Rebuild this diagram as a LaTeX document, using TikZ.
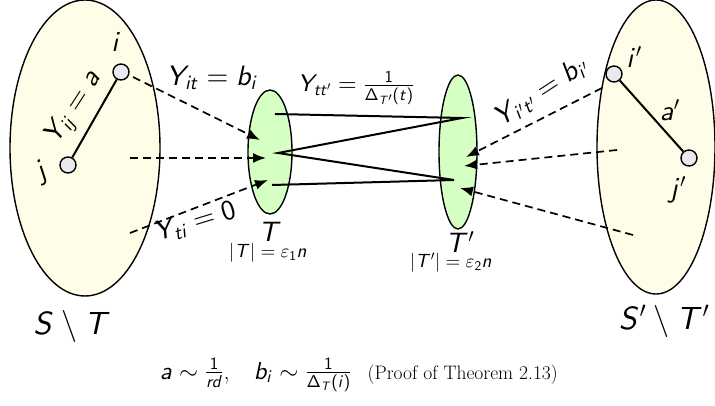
\RequirePackage{fix-cm}
\documentclass[tikz,border=0pt]{standalone}
\usepackage{amsmath}
\DeclareFontFamily{OT1}{mysf}{}
\DeclareFontShape{OT1}{mysf}{m}{n}{<->cmss10}{}
\DeclareFontShape{OT1}{mysf}{m}{sl}{<->cmssi10}{}
\DeclareFontFamily{OML}{mymm}{\skewchar\font'177}
\DeclareFontShape{OML}{mymm}{m}{it}{<->cmmi10}{}
\DeclareSymbolFont{oldletters}{OML}{mymm}{m}{it}
\DeclareMathSymbol{\veps}{\mathord}{oldletters}{"22}
\SetSymbolFont{letters}{normal}{OT1}{mysf}{m}{sl}
\SetSymbolFont{operators}{normal}{OT1}{mysf}{m}{n}
\usetikzlibrary{shapes.geometric,arrows.meta}
\definecolor{paleyellow}{RGB}{255,253,232}
\definecolor{palegreen}{RGB}{214,255,196}
\definecolor{vertexgray}{RGB}{232,234,238}
\tikzset{
  bigset/.style={ellipse, draw=black, line width=1.4pt, fill=paleyellow, inner sep=0pt},
  smallset/.style={ellipse, draw=black, line width=1.4pt, fill=palegreen, inner sep=0pt},
  vertex/.style={circle, draw=black, line width=1.4pt, fill=vertexgray, minimum size=16pt, inner sep=0pt},
  dasharrow/.style={dashed, dash pattern=on 8pt off 5pt, line width=1.7pt, -{Latex[length=13pt,width=10pt]}},
  solidedge/.style={line width=2pt},
  lbl/.style={font=\fontsize{28}{32}\selectfont, inner sep=0pt},
  midlbl/.style={font=\fontsize{24}{28}\selectfont, inner sep=0pt},
  smalllbl/.style={font=\fontsize{19}{22}\selectfont, inner sep=0pt},
  biglbl/.style={font=\fontsize{32}{36}\selectfont, inner sep=0pt}
}
\begin{document}
\begin{tikzpicture}[x=1pt,y=-1pt]
\useasboundingbox (0,0) rectangle (715,406);
% big sets
\node[bigset, minimum width=150pt, minimum height=296pt] (S) at (85,148) {};
\node[bigset, minimum width=118pt, minimum height=294pt] (Sp) at (656,147) {};
% small sets
\node[smallset, minimum width=44pt, minimum height=124pt] (T) at (270,152) {};
\node[smallset, minimum width=38pt, minimum height=154pt] (Tp) at (458,152) {};
% vertices
\node[vertex] (i) at (121,72) {};
\node[vertex] (j) at (68,165) {};
\node[vertex] (ip) at (614,74) {};
\node[vertex] (jp) at (689,158) {};
\draw[solidedge] (i) -- (j);
\draw[solidedge] (ip) -- (jp);
% zigzag between T and T'
\coordinate (z1) at (275,114);
\coordinate (z2) at (462,118);
\coordinate (z3) at (278,153);
\coordinate (z4) at (454,180);
\coordinate (z5) at (272,185);
\draw[solidedge, line join=miter] (z1) -- (z2) -- (z3) -- (z4) -- (z5);
% dashed arrows left
\coordinate (l1s) at (133,77);
\coordinate (l1e) at (260,140);
\coordinate (l2s) at (130,158);
\coordinate (l2e) at (266,158);
\coordinate (l3s) at (130,233);
\coordinate (l3e) at (268,180);
\draw[dasharrow] (l1s) -- (l1e);
\draw[dasharrow] (l2s) -- (l2e);
\draw[dasharrow] (l3s) -- (l3e);
% dashed arrows right
\coordinate (r1s) at (602,88);
\coordinate (r1e) at (466,157);
\coordinate (r2s) at (617,150);
\coordinate (r2e) at (464,166);
\coordinate (r3s) at (633,235);
\coordinate (r3e) at (460,188);
\draw[dasharrow] (r1s) -- (r1e);
\draw[dasharrow] (r2s) -- (r2e);
\draw[dasharrow] (r3s) -- (r3e);
% labels
\node[lbl] (li) at (116,42) {$i$};
\node[lbl, rotate=30] (lj) at (42,172) {$j$};
\node[lbl, rotate=57] (lYij) at (74,108) {$Y_{ij}=a$};
\node[lbl] (lYit) at (212,78) {$Y_{it}=b_i$};
\node[lbl, rotate=17] (lYti) at (195,222) {$Y_{ti}=0$};
\node[midlbl] (lYtt) at (356,88) {$Y_{tt'}=\frac{1}{\Delta_{T'}(t)}$};
\node[lbl, rotate=33] (lYipt) at (541,92) {$Y_{i't'}=b_{i'}$};
\node[lbl] (lip) at (634,57) {$i'$};
\node[lbl] (lap) at (670,110) {$a'$};
\node[lbl] (ljp) at (678,190) {$j'$};
\node[lbl] (lT) at (270,232) {$T$};
\node[smalllbl] (lTsize) at (268,253) {$|T|=\veps_1 n$};
\node[lbl] (lTp) at (460,242) {$T'$};
\node[smalllbl] (lTpsize) at (451,263) {$|T'|=\veps_2 n$};
\node[biglbl] (lS) at (72,326) {$S\setminus T$};
\node[biglbl] (lSp) at (664,321) {$S'\setminus T'$};
\node[inner sep=0pt, anchor=west] (cap) at (160,375)
  {\fontsize{24.5}{28}\selectfont $a\sim\frac{1}{rd}$,\hspace{24pt}$b_i\sim\frac{1}{\Delta_T(i)}$\hspace{16pt}\fontsize{19.5}{23}\selectfont(Proof of Theorem 2.13)};
\end{tikzpicture}
\end{document}
